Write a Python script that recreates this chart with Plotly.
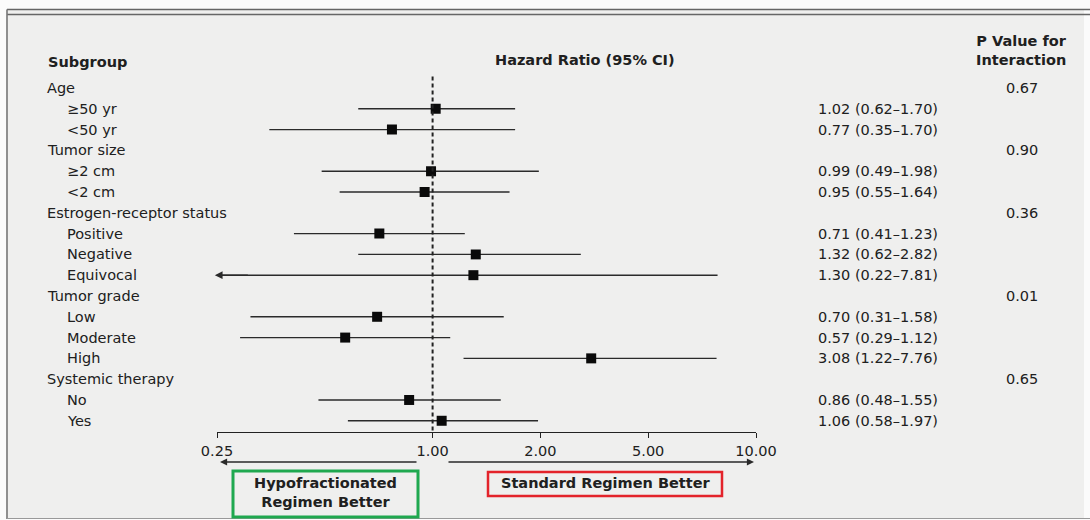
import numpy as np
import plotly.graph_objects as go

# ---------------- data ----------------
SUBGROUP_LABELS = ["Age", "≥50 yr", "<50 yr", "Tumor size", "≥2 cm", "<2 cm",
                   "Estrogen-receptor status", "Positive", "Negative", "Equivocal",
                   "Tumor grade", "Low", "Moderate", "High",
                   "Systemic therapy", "No", "Yes"]
IS_GROUP = [True, False, False, True, False, False, True, False, False, False,
            True, False, False, False, True, False, False]
HR = [None, 1.02, 0.77, None, 0.99, 0.95, None, 0.71, 1.32, 1.30,
      None, 0.70, 0.57, 3.08, None, 0.86, 1.06]
CI_LOW = [None, 0.62, 0.35, None, 0.49, 0.55, None, 0.41, 0.62, 0.22,
          None, 0.31, 0.29, 1.22, None, 0.48, 0.58]
CI_HIGH = [None, 1.70, 1.70, None, 1.98, 1.64, None, 1.23, 2.82, 7.81,
           None, 1.58, 1.12, 7.76, None, 1.55, 1.97]
P_VALUES = ["0.67", "", "", "0.90", "", "", "0.36", "", "", "",
            "0.01", "", "", "", "0.65", "", ""]
TICK_VALUES = [0.25, 1.00, 2.00, 5.00, 10.00]
TICK_LABELS = ["0.25", "1.00", "2.00", "5.00", "10.00"]
# relative spacing of the printed (non-uniform) axis between tick values
TICK_SPACING = [0, 2, 3, 4, 5]

W, H = 1090, 520
FONT = "DejaVu Sans"
FS = 14.5
TXT = "#202020"


def scale(v):
    """piecewise-log scale of the printed hazard-ratio axis"""
    return float(np.interp(np.log10(v), np.log10(TICK_VALUES), TICK_SPACING))


def px(x):
    return x / W


def py(y):
    return 1 - y / H


rows = list(range(1, len(SUBGROUP_LABELS) + 1))
X_MIN = TICK_VALUES[0]

fig = go.Figure()

# CI lines
lx, ly = [], []
for r, lo, hi in zip(rows, CI_LOW, CI_HIGH):
    if lo is None:
        continue
    lx += [scale(max(lo, X_MIN)), scale(hi), None]
    ly += [r, r, None]
fig.add_trace(go.Scatter(x=lx, y=ly, mode="lines",
                         line=dict(color="#2a2a2a", width=1.4),
                         hoverinfo="skip", showlegend=False))

# point estimates
mx = [scale(h) for h in HR if h is not None]
my = [r for r, h in zip(rows, HR) if h is not None]
fig.add_trace(go.Scatter(x=mx, y=my, mode="markers",
                         marker=dict(symbol="square", size=10, color="#0a0a0a"),
                         showlegend=False))

shapes = []
annotations = []

# white page outside the framed panel
for (x0, x1, y0, y1) in [(0, W, 0, 9), (0, 6, 0, H), (1084, W, 0, H), (0, W, 519, H)]:
    shapes.append(dict(type="rect", xref="paper", yref="paper",
                       x0=px(x0), x1=px(x1), y0=py(y1), y1=py(y0),
                       fillcolor="#fbfbfb", line=dict(width=0), layer="below"))
for yy in (9.5, 14.5):
    shapes.append(dict(type="line", xref="paper", yref="paper",
                       x0=px(7), x1=1, y0=py(yy), y1=py(yy),
                       line=dict(color="#666666", width=1.5)))
shapes.append(dict(type="line", xref="paper", yref="paper",
                   x0=px(7), x1=px(7), y0=py(519), y1=py(9.5),
                   line=dict(color="#777777", width=1.6)))
shapes.append(dict(type="line", xref="paper", yref="paper",
                   x0=px(7), x1=1, y0=py(518.5), y1=py(518.5),
                   line=dict(color="#999999", width=1.2)))

# reference line at HR = 1
shapes.append(dict(type="line", xref="x", yref="y",
                   x0=scale(1.0), x1=scale(1.0), y0=0.45, y1=17.54,
                   line=dict(color="#222222", width=2, dash="4px,3px")))

# arrow for CI truncated at axis minimum
for r, lo in zip(rows, CI_LOW):
    if lo is not None and lo < X_MIN:
        annotations.append(dict(x=scale(X_MIN) - 0.02, y=r, xref="x", yref="y",
                                ax=scale(X_MIN) + 0.3, ay=r, axref="x", ayref="y",
                                text="", showarrow=True, arrowhead=2,
                                arrowsize=1.1, arrowwidth=1.4, arrowcolor="#2a2a2a"))

# row labels, estimates, p values
for r, lab, grp, h, lo, hi, p in zip(rows, SUBGROUP_LABELS, IS_GROUP, HR,
                                     CI_LOW, CI_HIGH, P_VALUES):
    annotations.append(dict(x=px(45 if grp else 65), y=r, xref="paper", yref="y",
                            text=lab, showarrow=False, xanchor="left",
                            yanchor="middle", font=dict(size=FS, color=TXT)))
    if h is not None:
        annotations.append(dict(x=px(816), y=r, xref="paper", yref="y",
                                text=f"{h:.2f} ({lo:.2f}–{hi:.2f})",
                                showarrow=False, xanchor="left", yanchor="middle",
                                font=dict(size=FS, color=TXT)))
    if p:
        annotations.append(dict(x=px(1022), y=r, xref="paper", yref="y",
                                text=p, showarrow=False, xanchor="center",
                                yanchor="middle", font=dict(size=FS, color=TXT)))

# headers
annotations += [
    dict(x=px(46), y=py(62), xref="paper", yref="paper", text="<b>Subgroup</b>",
         showarrow=False, xanchor="left", yanchor="middle",
         font=dict(size=FS, color=TXT)),
    dict(x=px(585), y=py(60), xref="paper", yref="paper",
         text="<b>Hazard Ratio (95% CI)</b>", showarrow=False,
         xanchor="center", yanchor="middle", font=dict(size=FS, color=TXT)),
    dict(x=px(1021), y=py(51), xref="paper", yref="paper",
         text="<b>P Value for<br>Interaction</b>", showarrow=False,
         xanchor="center", yanchor="middle", font=dict(size=FS, color=TXT)),
]

# direction arrows
annotations += [
    dict(x=px(220), y=py(462), xref="paper", yref="paper", ax=198, ay=0,
         text="", showarrow=True, arrowhead=2, arrowsize=1.1, arrowwidth=1.3,
         arrowcolor="#2a2a2a"),
    dict(x=px(754), y=py(462), xref="paper", yref="paper", ax=-307, ay=0,
         text="", showarrow=True, arrowhead=2, arrowsize=1.1, arrowwidth=1.3,
         arrowcolor="#2a2a2a"),
]

# labelled boxes
shapes += [
    dict(type="rect", xref="paper", yref="paper", x0=px(233), x1=px(418),
         y0=py(517), y1=py(471), line=dict(color="#1fa84f", width=3)),
    dict(type="rect", xref="paper", yref="paper", x0=px(488), x1=px(722),
         y0=py(496), y1=py(472), line=dict(color="#e3232a", width=2.5)),
]
annotations += [
    dict(x=px(325), y=py(492), xref="paper", yref="paper",
         text="<b>Hypofractionated<br>Regimen Better</b>", showarrow=False,
         xanchor="center", yanchor="middle", font=dict(size=FS, color=TXT)),
    dict(x=px(605), y=py(483), xref="paper", yref="paper",
         text="<b>Standard Regimen Better</b>", showarrow=False,
         xanchor="center", yanchor="middle", font=dict(size=FS, color=TXT)),
]

fig.update_layout(
    width=W, height=H,
    margin=dict(l=0, r=0, t=0, b=0, autoexpand=False),
    paper_bgcolor="#efefee", plot_bgcolor="rgba(0,0,0,0)",
    font=dict(family=FONT, size=FS, color=TXT),
    shapes=shapes, annotations=annotations,
    xaxis=dict(domain=[px(217), px(756)], range=[0, 5],
               tickvals=[scale(v) for v in TICK_VALUES], ticktext=TICK_LABELS,
               showgrid=False, zeroline=False, showline=True,
               linecolor="#222222", linewidth=1.3,
               ticks="outside", ticklen=5, tickwidth=1.3, tickcolor="#222222",
               tickfont=dict(size=FS, color=TXT), fixedrange=True),
    yaxis=dict(domain=[py(432), py(67.2)], range=[17.54, 0],
               visible=False, fixedrange=True),
)

fig.write_html("out.html", config={"displayModeBar": False},
               post_script="document.body.style.margin='0px';"
                           "document.body.style.overflow='hidden';")
